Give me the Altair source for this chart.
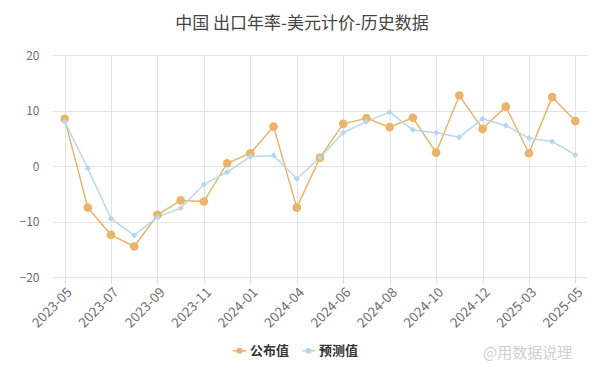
import altair as alt
import pandas as pd

dates = ["2023-05", "2023-06", "2023-07", "2023-08", "2023-09", "2023-10", "2023-11", "2023-12",
         "2024-01", "2024-03", "2024-04", "2024-05", "2024-06", "2024-07", "2024-08", "2024-09",
         "2024-10", "2024-11", "2024-12", "2025-01", "2025-03", "2025-04", "2025-05"]
actual = [8.5, -7.5, -12.4, -14.5, -8.8, -6.2, -6.4, 0.5,
          2.3, 7.1, -7.5, 1.5, 7.6, 8.6, 7.0, 8.7,
          2.4, 12.7, 6.7, 10.7, 2.3, 12.4, 8.1]
forecast = [8.0, -0.4, -9.5, -12.5, -9.2, -7.6, -3.3, -1.1,
            1.7, 1.9, -2.3, 1.5, 6.0, 8.0, 9.7, 6.5,
            6.0, 5.2, 8.5, 7.3, 5.0, 4.4, 2.0]
tick_labels = ["2023-05", "2023-07", "2023-09", "2023-11", "2024-01", "2024-04",
               "2024-06", "2024-08", "2024-10", "2024-12", "2025-03", "2025-05"]
series_names = ["公布值", "预测值"]
y_ticks = [-20, -10, 0, 10, 20]

FONT = "Noto Sans CJK SC"
df = pd.DataFrame({
    "date": dates * 2,
    "series": [series_names[0]] * len(dates) + [series_names[1]] * len(dates),
    "value": actual + forecast,
})

x = alt.X("date:N", sort=dates, title=None,
          scale=alt.Scale(type="point", padding=0.5),
          axis=alt.Axis(values=tick_labels, labelAngle=-45, labelFontSize=13.5,
                        labelColor="#6f6f6f", labelFont=FONT, grid=True, gridColor="#e3e3e3",
                        domain=False, tickColor="#d8d8d8", tickSize=6, labelPadding=2))
y = alt.Y("value:Q", title=None,
          scale=alt.Scale(domain=[-20, 20], nice=False),
          axis=alt.Axis(values=y_ticks, labelFontSize=12, labelColor="#6f6f6f", labelFont=FONT,
                        grid=True, gridColor="#e3e3e3", domain=False, ticks=False, labelPadding=14))

legend_path = "M-1.6,0L-0.55,0 M0.55,0L1.6,0 M-0.55,0A0.55,0.55 0 1,1 0.55,0A0.55,0.55 0 1,1 -0.55,0"
color = alt.Color("series:N", scale=alt.Scale(domain=series_names, range=["#eab46a", "#b9d7ea"]),
                  legend=alt.Legend(title=None, orient="none", direction="horizontal",
                                    legendX=180, legendY=289, symbolType=legend_path,
                                    symbolSize=70, symbolStrokeWidth=1.5, symbolOpacity=1,
                                    labelFont=FONT, labelFontSize=13, labelColor="#333333",
                                    labelFontWeight="bold", columnPadding=8, symbolOffset=0,
                                    labelOffset=4))

lines = alt.Chart(df).mark_line(strokeWidth=1.5).encode(
    x=x, y=y, color=color, detail="series:N")

pts_a = alt.Chart(df[df.series == series_names[0]]).mark_point(
    filled=True, size=75, opacity=1, shape="circle").encode(x=x, y=y, color=color)
pts_f = alt.Chart(df[df.series == series_names[1]]).mark_point(
    filled=True, size=40, opacity=1, shape="diamond").encode(x=x, y=y, color=color)

mark_text = alt.Chart(pd.DataFrame({"t": ["@用数据说理"]})).mark_text(
    font=FONT, fontSize=15, color="#cfcfcf", align="left", baseline="middle").encode(
    text="t:N", x=alt.value(430), y=alt.value(298))

chart = alt.layer(lines, pts_a, pts_f, mark_text).properties(
    width=534, height=222,
    padding={"left": 45, "top": 47, "right": 5, "bottom": 86},
    autosize=alt.AutoSizeParams(type="none"),
    title=alt.Title("中国 出口年率-美元计价-历史数据", font=FONT, fontSize=17, fontWeight="normal",
                    color="#444444", anchor="middle", offset=16, dx=-18),
).configure_view(stroke=None)

chart.save("out.html", embed_options={"renderer": "svg", "actions": False})
